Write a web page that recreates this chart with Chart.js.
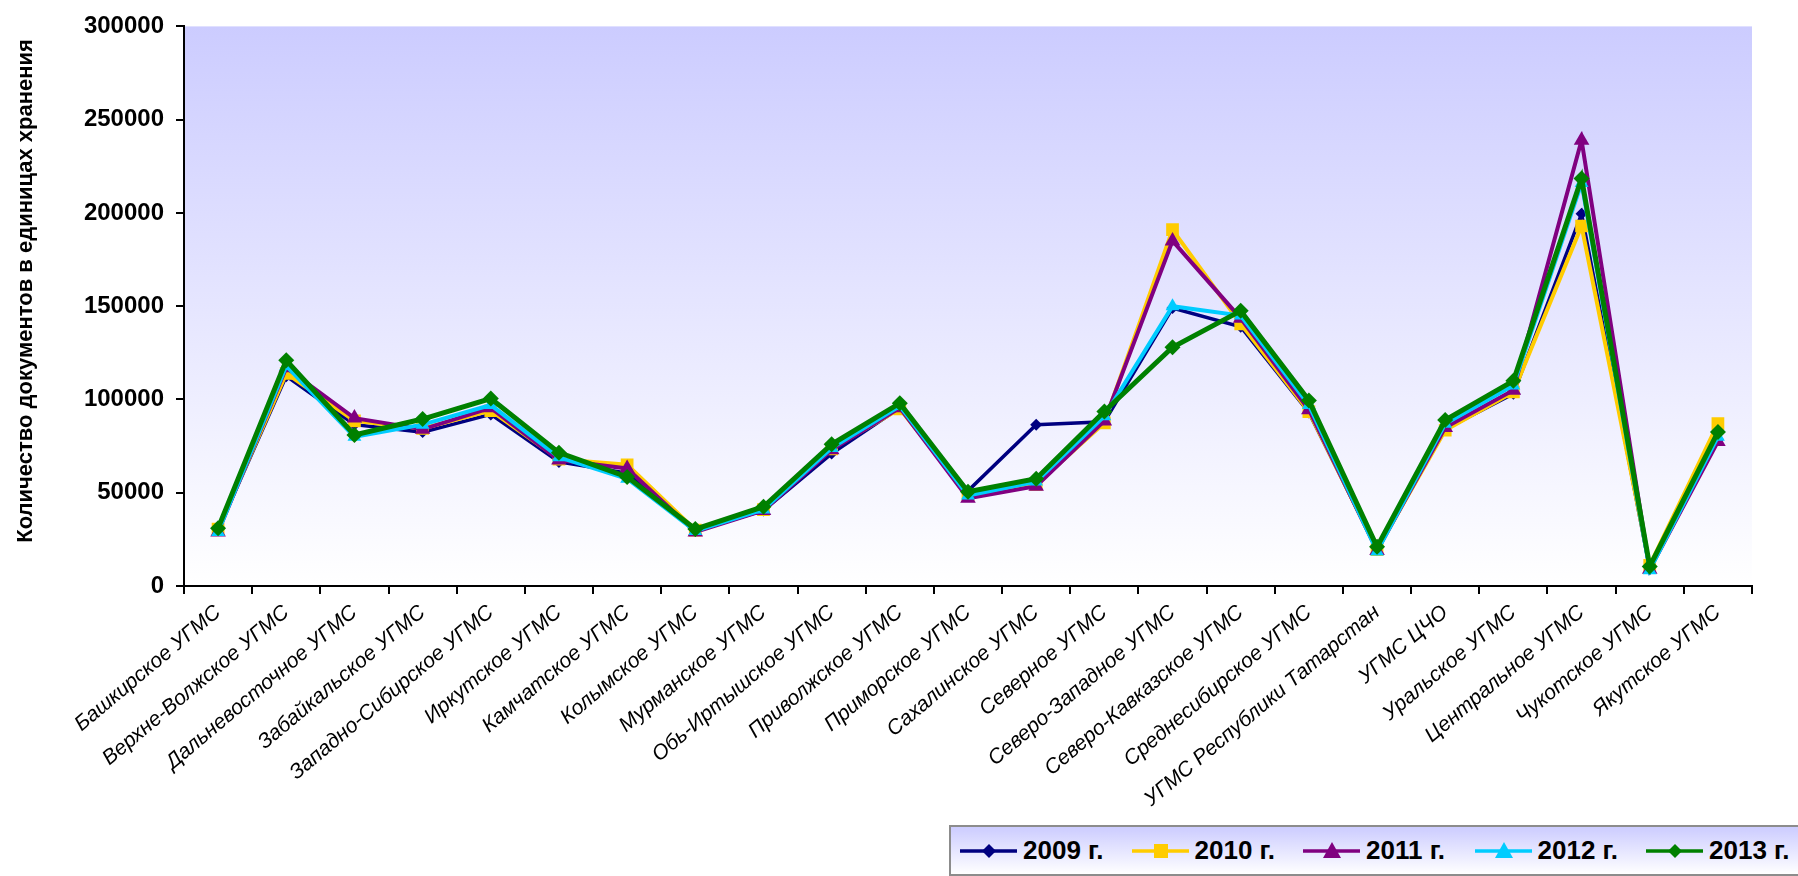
<!DOCTYPE html>
<html>
<head>
<meta charset="utf-8">
<script src="https://cdn.jsdelivr.net/npm/chart.js@4.4.1/dist/chart.umd.min.js"></script>
<style>
  html, body { margin: 0; padding: 0; background: #fff; overflow: hidden; }
  #wrap { position: relative; width: 1798px; height: 876px; }
  #c { position: absolute; left: 0; top: 0; }
  #legend {
    position: absolute; left: 949px; top: 825px; width: 900px; height: 47px;
    border: 2px solid #8c8c8c; box-sizing: content-box;
    background: linear-gradient(to bottom, #ccccff 0%, #ffffff 100%);
    font-family: "Liberation Sans", Arial, sans-serif; font-weight: bold; font-size: 26px; color: #000;
    white-space: nowrap;
  }
  .item { position: absolute; top: 0; height: 47px; display: flex; align-items: center; }
  .item svg { display: block; margin-right: 6px; }
</style>
</head>
<body>
<div id="wrap">
  <canvas id="c" width="1798" height="876"></canvas>
  <div id="legend"></div>
</div>
<script>
const categories = [
  "Башкирское УГМС", "Верхне-Волжское УГМС", "Дальневосточное УГМС", "Забайкальское УГМС",
  "Западно-Сибирское УГМС", "Иркутское УГМС", "Камчатское УГМС", "Колымское УГМС",
  "Мурманское УГМС", "Обь-Иртышское УГМС", "Приволжское УГМС", "Приморское УГМС",
  "Сахалинское УГМС", "Северное УГМС", "Северо-Западное УГМС", "Северо-Кавказское УГМС",
  "Среднесибирское УГМС", "УГМС Республики Татарстан", "УГМС ЦЧО", "Уральское УГМС",
  "Центральное УГМС", "Чукотское УГМС", "Якутское УГМС"
];
const seriesNames = ["2009 г.", "2010 г.", "2011 г.", "2012 г.", "2013 г."];
const v2009 = [30000, 112500, 86500, 82500, 92000, 66500, 60500, 29500, 40500, 71000, 95500, 51000, 86500, 88000, 149000, 139000, 93000, 19500, 84000, 103000, 199500, 9000, 78500];
const v2010 = [30500, 114000, 88500, 84500, 94000, 68000, 65000, 30000, 41000, 73500, 95000, 49000, 54500, 87500, 191000, 140500, 93500, 19500, 83500, 104000, 193000, 11000, 87000];
const v2011 = [29000, 117000, 90000, 84000, 95500, 67500, 63000, 29000, 40500, 73000, 95500, 47000, 53500, 88500, 185000, 143500, 94500, 19000, 85000, 105000, 239000, 9000, 77500];
const v2012 = [29000, 118000, 80000, 86500, 97000, 69000, 57500, 29500, 41000, 74000, 96500, 48500, 56000, 91000, 150000, 145000, 97000, 18500, 87000, 107500, 216000, 8500, 80000];
const v2013 = [31000, 121000, 81000, 89500, 100500, 71500, 58500, 30500, 42500, 76000, 98000, 50500, 57500, 93500, 128000, 147500, 99500, 21000, 89000, 110000, 218500, 10500, 82500];
const yTicks = [0, 50000, 100000, 150000, 200000, 250000, 300000];
const yTitle = "Количество документов в единицах хранения";

const colors = ["#000080", "#ffcc00", "#800080", "#00ccff", "#008000"];
const styles = ["rectRot", "rect", "triangle", "triangle", "rectRot"];
const radii = [6, 9, 9, 8, 8];
const widths = [3.5, 4, 4, 4, 5];
const allValues = [v2009, v2010, v2011, v2012, v2013];

const datasets = allValues.map((vals, i) => ({
  label: seriesNames[i],
  data: vals,
  borderColor: colors[i],
  backgroundColor: colors[i],
  pointBackgroundColor: colors[i],
  pointBorderColor: colors[i],
  pointBorderWidth: 0,
  pointStyle: styles[i],
  pointRadius: radii[i],
  borderWidth: widths[i],
  tension: 0,
  order: 4 - i
}));

const bgPlugin = {
  id: 'plotBg',
  beforeDraw(chart) {
    const {ctx, chartArea: a} = chart;
    const g = ctx.createLinearGradient(0, a.top, 0, a.bottom);
    g.addColorStop(0, '#ccccff');
    g.addColorStop(1, '#ffffff');
    ctx.save();
    ctx.fillStyle = g;
    ctx.fillRect(a.left, a.top, a.right - a.left, a.bottom - a.top);
    ctx.restore();
  }
};

new Chart(document.getElementById('c'), {
  type: 'line',
  data: { labels: categories, datasets },
  plugins: [bgPlugin],
  options: {
    responsive: false,
    animation: false,
    layout: { padding: { left: 0, right: 46, top: 11, bottom: 0 } },
    plugins: { legend: { display: false }, tooltip: { enabled: false } },
    scales: {
      x: {
        type: 'category',
        offset: true,
        afterFit(s) { s.height = 290; },
        grid: { display: true, drawOnChartArea: false, offset: true, tickLength: 8, color: '#000', lineWidth: 2 },
        border: { display: true, color: '#000', width: 2 },
        ticks: {
          autoSkip: false, minRotation: 40, maxRotation: 40, padding: 6, color: '#000',
          font: { family: '"Liberation Sans", Arial, sans-serif', size: 21, style: 'italic' }
        }
      },
      y: {
        min: 0, max: 300000,
        afterFit(s) { s.width = 184; },
        afterBuildTicks(s) { s.ticks = yTicks.map(v => ({ value: v })); },
        grid: { display: true, drawOnChartArea: false, tickLength: 8, color: '#000', lineWidth: 2 },
        border: { display: true, color: '#000', width: 2 },
        title: {
          display: true, text: '     ' + yTitle, color: '#000', padding: { top: 13, bottom: 0 },
          font: { family: '"Liberation Sans", Arial, sans-serif', size: 22, weight: 'bold' }
        },
        ticks: {
          padding: 12, color: '#000',
          callback: v => String(v),
          font: { family: '"Liberation Sans", Arial, sans-serif', size: 24, weight: 'bold' }
        }
      }
    }
  }
});

// HTML legend
const legend = document.getElementById('legend');
function markerSvg(i) {
  const c = colors[i];
  let m = '';
  if (styles[i] === 'rectRot') {
    const r = 7;
    m = `<polygon points="29,${24 - r} ${29 + r},24 29,${24 + r} ${29 - r},24" fill="${c}"/>`;
  } else if (styles[i] === 'rect') {
    m = `<rect x="22" y="17" width="14" height="14" fill="${c}"/>`;
  } else {
    m = `<polygon points="29,15 38,31 20,31" fill="${c}"/>`;
  }
  return `<svg width="57" height="47"><line x1="0" y1="24" x2="57" y2="24" stroke="${c}" stroke-width="3.5"/>${m}</svg>`;
}
seriesNames.forEach((n, i) => {
  const d = document.createElement('div');
  d.className = 'item';
  d.style.left = (9 + 171.5 * i) + 'px';
  d.innerHTML = markerSvg(i) + `<span>${n}</span>`;
  legend.appendChild(d);
});
</script>
</body>
</html>
